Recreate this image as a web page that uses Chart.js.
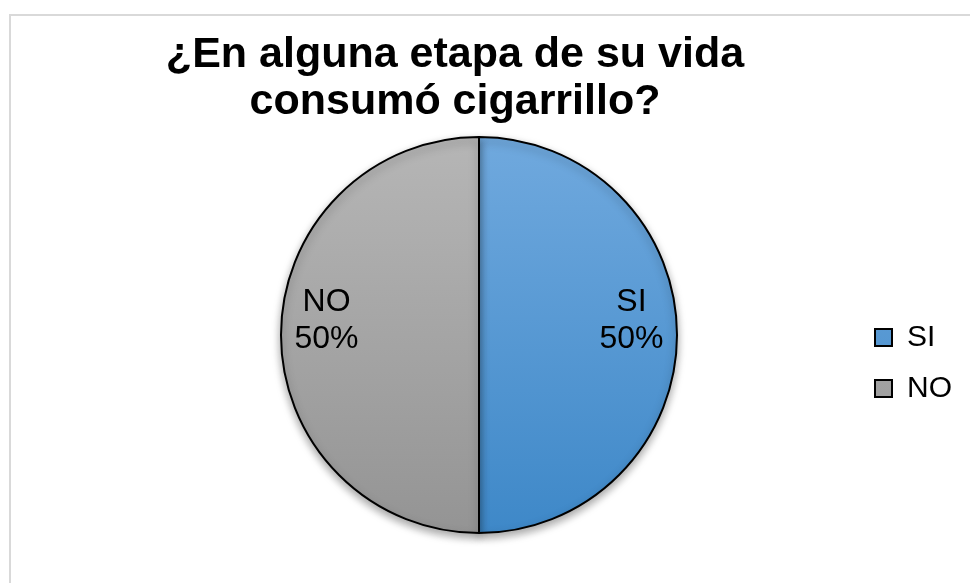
<!DOCTYPE html>
<html lang="es">
<head>
    <meta charset="UTF-8">
    <title>Consumo de cigarrillo</title>
    <script src="https://cdn.jsdelivr.net/npm/chart.js"></script>
</head>
<body>
    <style>
        body {
            margin: 0;
            background: #fff;
            overflow: hidden;
        }
        .marco {
            position: absolute;
            left: 9px;
            top: 14px;
            width: 1000px;
            height: 600px;
            border-left: 2px solid #d9d9d9;
            border-top: 2px solid #d9d9d9;
        }
        .titulo {
            position: absolute;
            left: 0;
            top: 29px;
            width: 910px;
            text-align: center;
            font-family: 'Liberation Sans', Arial, sans-serif;
            font-weight: bold;
            font-size: 43px;
            line-height: 47px;
            color: #000;
        }
        .grafico {
            position: absolute;
            left: 0;
            top: 0;
            width: 970px;
            height: 583px;
        }
    </style>
    <div class="marco"></div>
    <div class="grafico">
        <canvas id="torta"></canvas>
    </div>
    <div class="titulo">¿En alguna etapa de su vida<br>consumó cigarrillo?</div>

    <script>
        // Respuestas y porcentajes
        const respuestas = ['SI', 'NO'];
        const porcentajes = [50, 50];

        // Degradado vertical (arriba claro, abajo oscuro) para cada porción
        const tonos = {
            SI: ['rgb(112,169,222)', 'rgb(62,136,200)'],
            NO: ['rgb(182,182,182)', 'rgb(148,148,148)']
        };

        function degradado(context) {
            const chart = context.chart;
            const area = chart.chartArea;
            const par = tonos[respuestas[context.dataIndex]];
            if (!area) return par[1];
            const g = chart.ctx.createLinearGradient(0, area.top, 0, area.bottom);
            g.addColorStop(0, par[0]);
            g.addColorStop(1, par[1]);
            return g;
        }

        // Sombra suave debajo de la torta
        const sombra = {
            id: 'sombra',
            beforeDatasetsDraw(chart) {
                const ctx = chart.ctx;
                ctx.save();
                ctx.shadowColor = 'rgba(0,0,0,0.35)';
                ctx.shadowBlur = 8;
                ctx.shadowOffsetY = 4;
            },
            afterDatasetsDraw(chart) {
                chart.ctx.restore();
            }
        };

        // Etiqueta "categoría / porcentaje" dentro de cada porción
        const etiquetas = {
            id: 'etiquetas',
            afterDatasetsDraw(chart) {
                const ctx = chart.ctx;
                const datos = chart.data.datasets[0].data;
                const total = datos.reduce((a, b) => a + b, 0);
                ctx.save();
                ctx.font = '32px "Liberation Sans", Arial, sans-serif';
                ctx.fillStyle = '#000';
                ctx.textAlign = 'center';
                ctx.textBaseline = 'middle';
                chart.getDatasetMeta(0).data.forEach((arc, i) => {
                    const medio = (arc.startAngle + arc.endAngle) / 2;
                    const d = arc.outerRadius * 0.77;
                    const x = arc.x + Math.cos(medio) * d;
                    const y = arc.y + Math.sin(medio) * d - 14;
                    const pct = Math.round(datos[i] / total * 100) + '%';
                    ctx.fillText(chart.data.labels[i], x, y - 18.5);
                    ctx.fillText(pct, x, y + 18.5);
                });
                ctx.restore();
            }
        };

        const config = {
            type: 'pie',
            data: {
                labels: respuestas,
                datasets: [{
                    data: porcentajes,
                    backgroundColor: degradado,
                    borderColor: '#000',
                    borderWidth: 2
                }]
            },
            options: {
                responsive: true,
                maintainAspectRatio: false,
                animation: false,
                layout: {
                    padding: { left: 104, right: 8, top: 136, bottom: 49 }
                },
                plugins: {
                    tooltip: { enabled: false },
                    legend: {
                        position: 'right',
                        fullSize: false,
                        // título vacío: sólo empuja las entradas hacia abajo
                        title: {
                            display: true,
                            text: '',
                            font: { size: 10, lineHeight: 1 },
                            padding: { top: 46, bottom: 0 }
                        },
                        labels: {
                            boxWidth: 17,
                            boxHeight: 17,
                            padding: 21,
                            color: '#000',
                            font: { family: "'Liberation Sans', Arial, sans-serif", size: 30 }
                        }
                    }
                }
            },
            plugins: [sombra, etiquetas]
        };

        const ctx = document.getElementById('torta').getContext('2d');
        const torta = new Chart(ctx, config);
    </script>
</body>
</html>
